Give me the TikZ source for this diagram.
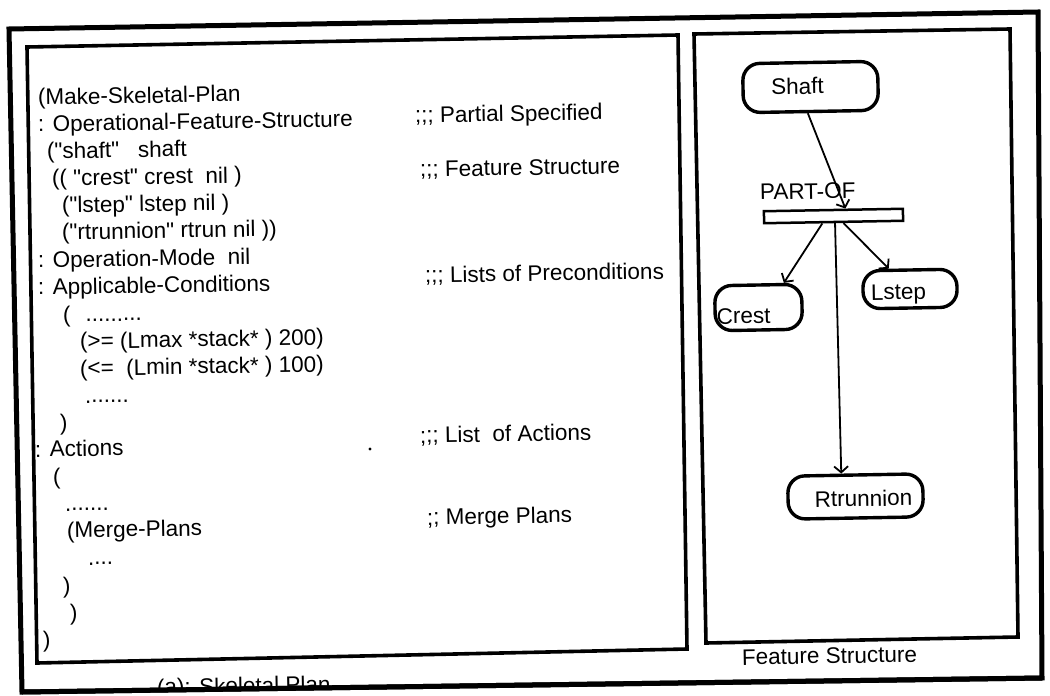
\documentclass[tikz,border=0pt]{standalone}
\usepackage{fontspec}
\setmainfont{Liberation Sans}
\usetikzlibrary{arrows.meta,calc}
\newcommand\lbl[3]{\smash{\makebox[0pt]{\hspace*{#1}\raisebox{#2}{#3}}}}
\newcommand\qq{\textquotedbl}
\begin{document}
\begin{tikzpicture}[x=1pt,y=-1pt,
  txt/.style={anchor=base west, inner sep=0pt, rotate=1, font=\fontsize{22.5}{27}\selectfont},
  rbox/.style={draw, line width=3.4pt, rounded corners=17pt, inner sep=0pt, rotate=1, font=\fontsize{22.5}{27}\selectfont},
  conn/.style={line width=1.8pt, -{Straight Barb[length=6pt,width=14pt,line width=1.8pt]}},
  outerframe/.style={line width=5pt, line join=miter},
  panel/.style={line width=3.6pt, line join=miter}]
\useasboundingbox (0,0) rectangle (1050,696);
\fill[white] (0,0) rectangle (1050,696);

% frames
\draw[outerframe] (9,29) -- (1038,12) -- (1042,678) -- (22,692) -- cycle;
\draw[panel] (27,47) -- (678,35) -- (687,649) -- (37,663) -- cycle;
\draw[panel] (694,34) -- (1010,29) -- (1018,637) -- (706,643) -- cycle;

% left text
\node[txt] (l1) at (38,105) {(Make-Skeletal-Plan};
\node[txt] (l2) at (38,132) {: Operational-Feature-Structure};
\node[txt] (l3) at (47,159) {(\qq shaft\qq\ \ \ shaft};
\node[txt] (l4) at (52,186) {(( \qq crest\qq\ crest\ \ nil )};
\node[txt] (l5) at (62,213) {(\qq lstep\qq\ lstep nil )};
\node[txt] (l6) at (62,240) {(\qq rtrunnion\qq\ rtrun nil ))};
\node[txt] (l7) at (38,268) {: Operation-Mode\ \ nil};
\node[txt] (l8) at (38,295) {: Applicable-Conditions};
\node[txt] (l9) at (63,322) {(\hspace{15pt}.........};
\node[txt] (l10) at (80,349) {(>= (Lmax *stack* ) 200)};
\node[txt] (l11) at (80,376) {(<=\ \ (Lmin *stack* ) 100)};
\node[txt] (l12) at (85,403) {.......};
\node[txt] (l13) at (60,430) {)};
\node[txt] (l14) at (35,457) {: Actions};
\node[txt] (l15) at (53,484) {(};
\node[txt] (l16) at (65,511) {.......};
\node[txt] (l17) at (67,538) {(Merge-Plans};
\node[txt] (l18) at (88,565) {....};
\node[txt] (l19) at (63,593) {)};
\node[txt] (l20) at (70,620) {)};
\node[txt] (l21) at (43,647) {)};

% comments
\node[txt] (c1) at (415,123) {;;; Partial Specified};
\node[txt] (c2) at (420,177) {;;; Feature Structure};
\node[txt] (c3) at (425,283) {;;; Lists of Preconditions};
\node[txt] (c4) at (420,443) {;;; List\ \ of Actions};
\node[txt] (c5) at (427,525) {;; Merge Plans};

\fill (370,449) circle (1.6);

% captions
\node[txt] (capb) at (742,665) {Feature Structure};
\begin{scope}
\clip (9,29) -- (1038,12) -- (1042,678) -- (22,692) -- cycle;
\node[txt] (capa) at (157,695) {(a): Skeletal Plan};
\end{scope}
\draw[outerframe] (1042,678) -- (22,692);

% feature structure graph
\node[rbox, minimum width=135pt, minimum height=49pt] (shaft) at (810.5,87) {\lbl{-26pt}{-7pt}{Shaft}};
\node[draw, line width=2.5pt, minimum width=139pt, minimum height=12pt, inner sep=0pt, rotate=1] (bar) at (833.5,216) {};
\node[txt] (partof) at (760,200) {PART-OF};
\node[rbox, minimum width=87pt, minimum height=45pt] (crest) at (758.5,307.5) {\lbl{-30pt}{-16pt}{Crest}};
\node[rbox, minimum width=94pt, minimum height=38pt] (lstep) at (910,289) {\lbl{-23pt}{-10.5pt}{Lstep}};
\node[rbox, minimum width=135pt, minimum height=43pt] (rtr) at (855.5,496.5) {\lbl{16pt}{-10pt}{Rtrunnion}};

\draw[conn] ($(shaft.south)!0.045!(shaft.south west)$) -- ($(bar.north)!0.17!(bar.north east)$);
\draw[conn] ($(bar.south)!0.16!(bar.south west)$) -- ($(crest.north)!0.57!(crest.north east)$);
\draw[conn] ($(bar.south)!0.14!(bar.south east)$) -- ($(lstep.north)!0.43!(lstep.north west)$);
\draw[conn] ($(bar.south)!0.02!(bar.south east)$) -- ($(rtr.north)!0.2!(rtr.north west)$);
\end{tikzpicture}
\end{document}
